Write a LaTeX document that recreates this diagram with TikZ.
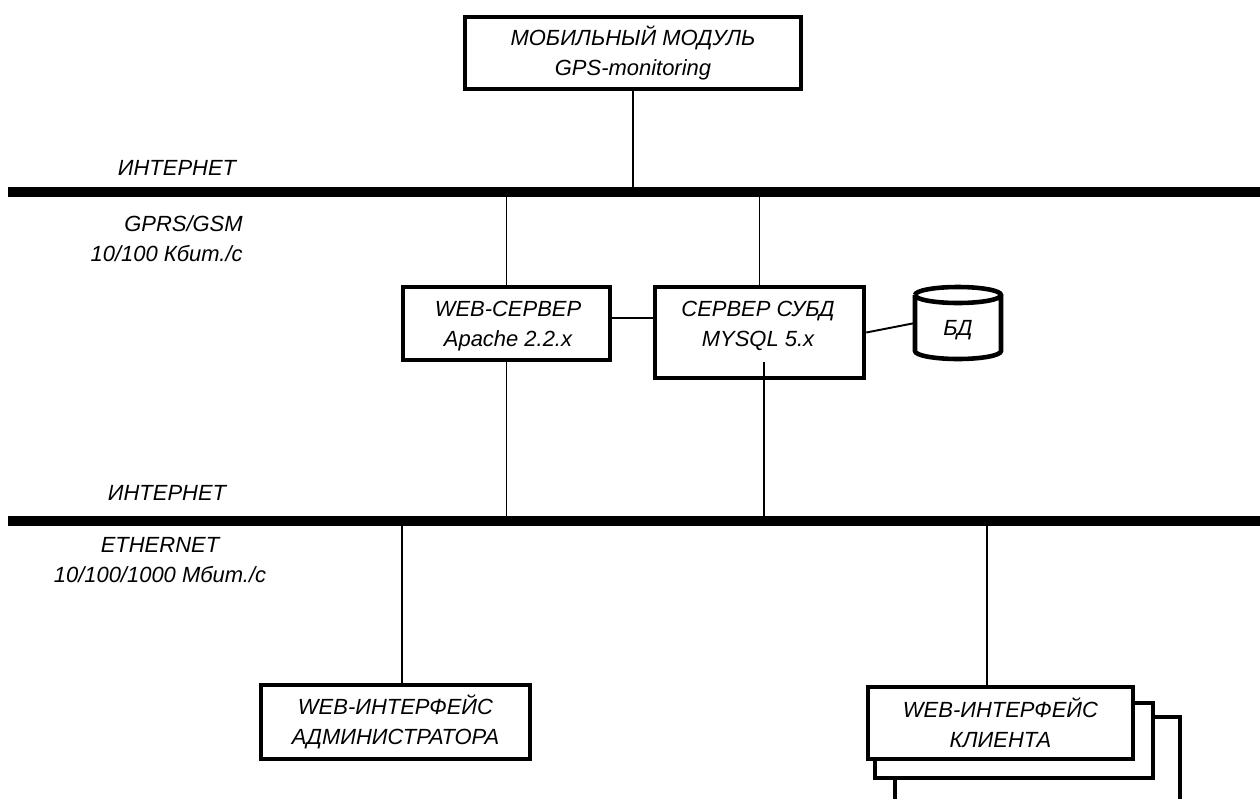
\documentclass[tikz,border=0pt]{standalone}
\usepackage{fontspec}
\setmainfont{Liberation Sans}
\usetikzlibrary{positioning}
\begin{document}
\begin{tikzpicture}[x=0.02cm, y=-0.02cm, line join=miter,
		font=\fontsize{12.5}{17}\selectfont\itshape,
		box/.style={draw, line width=2.6pt, align=center, inner sep=0pt},
		sheet/.style={line width=2.6pt},
		wire/.style={line width=1.1pt},
		bus/.style={line width=5.7pt},
		lbl/.style={align=center, inner sep=0pt}]
	\useasboundingbox (0,0) rectangle (1260,798);
	% шины
	\coordinate (bus1w) at (8,192); \coordinate (bus1e) at (1260,192);
	\coordinate (bus2w) at (8,521); \coordinate (bus2e) at (1260,521);
	\draw[bus] (bus1w)--(bus1e);
	\draw[bus] (bus2w)--(bus2e);
	\node[lbl] (net1) at (177,168) {ИНТЕРНЕТ};
	\node[lbl, align=right, anchor=east] (gsm) at (243,239) {GPRS/GSM\\10/100 Кбит./с};
	\node[lbl] (net2) at (167,493) {ИНТЕРНЕТ};
	\node[lbl] (eth) at (160,560) {ETHERNET\\10/100/1000 Мбит./с};
	% узлы
	\node[box, minimum width=6.72cm, minimum height=1.44cm] (mob) at (633,53) {МОБИЛЬНЫЙ МОДУЛЬ\\GPS-monitoring};
	\node[box, minimum width=4.14cm, minimum height=1.46cm] (web) at (506.5,323.5) {};
	\node[lbl] (webtxt) at (508,326) {WEB-СЕРВЕР\\Apache 2.2.x};
	\node[box, minimum width=4.18cm, minimum height=1.82cm] (dbms) at (759.5,332.5) {};
	\node[lbl] (dbmstxt) at (758,326) {СЕРВЕР СУБД\\MYSQL 5.x};
	\node[lbl] (db) at (958,330) {БД};
	\draw[sheet] (915,295) arc[start angle=180, end angle=-180, x radius=43, y radius=8]
		(915,295)--(915,351) arc[start angle=180, end angle=0, x radius=43, y radius=8]--(1001,295);
	\node[box, minimum width=5.38cm, minimum height=1.48cm] (adm) at (395.5,722) {WEB-ИНТЕРФЕЙС\\АДМИНИСТРАТОРА};
	\node[box, minimum width=5.3cm, minimum height=1.44cm] (cli) at (1000.5,723) {WEB-ИНТЕРФЕЙС\\КЛИЕНТА};
	\draw[sheet] (875,759)--(875,778)--(1153,778)--(1153,703)--(1133,703);
	\draw[sheet] (895,805)--(895,778) (1153,717)--(1180,717)--(1180,805);
	% связи
	\coordinate (lnk) at (0,318);
	\coordinate (dbin) at (764,362);
	\coordinate (dbend) at (915,323);
	\coordinate (tap1) at (402,521);
	\coordinate (tap2) at (987,521);
	\draw[wire] (mob.south)--(mob.south |- bus1w);
	\draw[wire] (web.north)--(web.north |- bus1w);
	\draw[wire] (dbms.north)--(dbms.north |- bus1w);
	\draw[wire] (web.east |- lnk)--(dbms.west |- lnk);
	\draw[wire] (dbms.east)--(dbend);
	\draw[wire] (web.south)--(web.south |- bus2w);
	\draw[wire] (dbin)--(dbin |- bus2w);
	\draw[wire] (tap1)--(tap1 |- adm.north);
	\draw[wire] (tap2)--(tap2 |- cli.north);
\end{tikzpicture}
\end{document}
